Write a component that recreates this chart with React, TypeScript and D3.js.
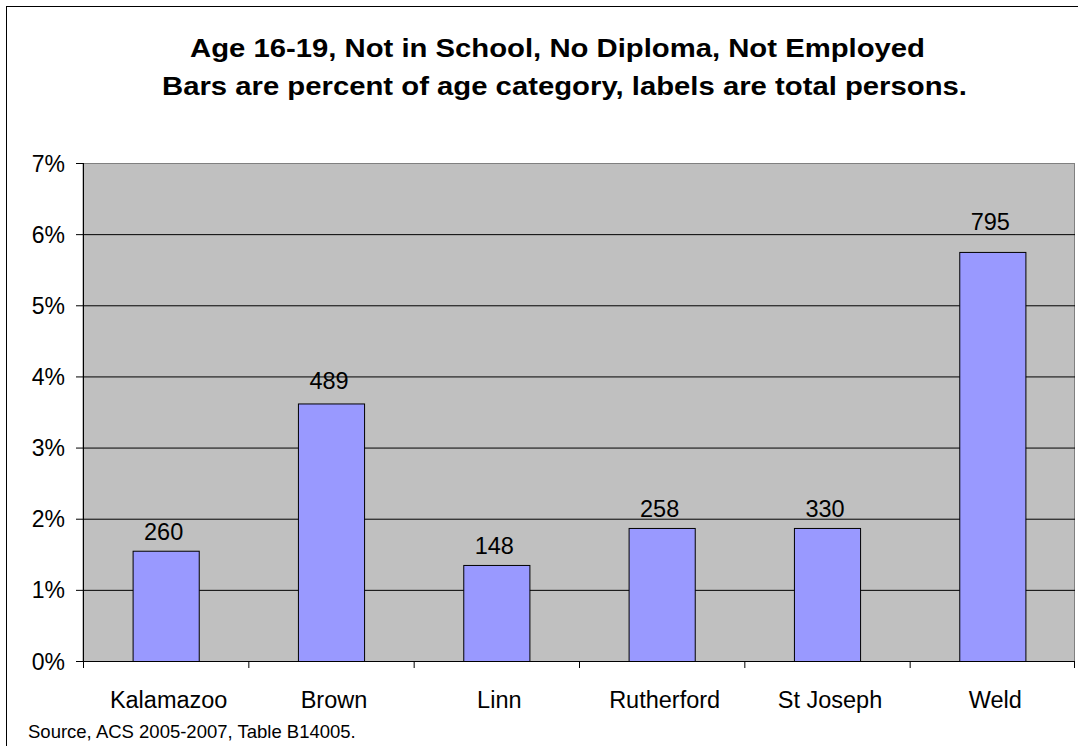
import React from "react";
import * as d3 from "d3";

const categories = ["Kalamazoo", "Brown", "Linn", "Rutherford", "St Joseph", "Weld"];
const percents = [1.55, 3.62, 1.35, 1.87, 1.87, 5.75];
const persons = ["260", "489", "148", "258", "330", "795"];
const yTicks = [0, 1, 2, 3, 4, 5, 6, 7];
const titleLines = [
  "Age 16-19, Not in School, No Diploma, Not Employed",
  "Bars are percent of age category, labels are total persons.",
];
const sourceText = "Source, ACS 2005-2007, Table B14005.";

const W = 1078;
const H = 746;
const plot = { left: 83, right: 1075, top: 163, bottom: 661 };
const font = "Arial, 'Liberation Sans', Helvetica, sans-serif";
// title layout (stretched horizontally like the reference)
const titleLayout = [
  { x: 190, y: 57, len: 735 },
  { x: 162, y: 95, len: 805 },
];

export default function App() {
  const x = d3
    .scaleBand<string>()
    .domain(categories)
    .range([plot.left, plot.right])
    .paddingInner(0.6)
    .paddingOuter(0.3);
  const xb = d3.scaleBand<string>().domain(categories).range([plot.left, plot.right]);
  const y = d3.scaleLinear().domain([0, 7]).range([plot.bottom, plot.top]);

  return (
    <svg
      width={W}
      height={H}
      style={{ position: "absolute", left: 0, top: 0, display: "block" }}
      fontFamily={font}
    >
      <rect x={0} y={0} width={W} height={H} fill="#fff" />
      <rect x={6.5} y={6.5} width={W + 10} height={H + 10} fill="none" stroke="#000" strokeWidth={1} />
      {titleLines.map((t, i) => (
        <text
          key={i}
          x={titleLayout[i].x}
          y={titleLayout[i].y}
          textLength={titleLayout[i].len}
          lengthAdjust="spacingAndGlyphs"
          fontSize={25}
          fontWeight="bold"
          fill="#000"
        >
          {t}
        </text>
      ))}
      <rect
        x={plot.left}
        y={plot.top + 0.5}
        width={plot.right - plot.left - 0.5}
        height={plot.bottom - plot.top}
        fill="#c0c0c0"
        stroke="#808080"
        strokeWidth={1}
      />
      {yTicks.map((t) => (
        <g key={t}>
          {t > 0 && t < 7 && (
            <line x1={plot.left} x2={plot.right} y1={y(t) + 0.5} y2={y(t) + 0.5} stroke="#000" strokeWidth={1} />
          )}
          <line x1={plot.left - 7} x2={plot.left} y1={y(t) + 0.5} y2={y(t) + 0.5} stroke="#000" strokeWidth={1} />
          <text x={65} y={y(t) + 8.5} textAnchor="end" fontSize={23} fill="#000">
            {t}%
          </text>
        </g>
      ))}
      {categories.map((c, i) => {
        const top = y(percents[i]);
        const h = y(0) - top;
        return (
          <g key={c}>
            <rect
              x={x(c)! + 0.5}
              y={top + 0.5}
              width={x.bandwidth()}
              height={h}
              fill="#9999ff"
              stroke="#000"
              strokeWidth={1}
            />
            <text
              x={x(c)! + x.bandwidth() / 2 - 2}
              y={top - (10 + 7e-5 * h * h)}
              textAnchor="middle"
              fontSize={23.5}
              fill="#000"
            >
              {persons[i]}
            </text>
            <text
              x={xb(c)! + xb.bandwidth() / 2 + 3}
              y={708}
              textAnchor="middle"
              fontSize={23.5}
              fill="#000"
            >
              {c}
            </text>
          </g>
        );
      })}
      {categories.concat(["end"]).map((c, i) => {
        const xx = Math.min(plot.left + i * xb.step(), plot.right - 1);
        return <line key={i} x1={xx + 0.5} x2={xx + 0.5} y1={plot.bottom} y2={plot.bottom + 7} stroke="#000" strokeWidth={1} />;
      })}
      <line x1={plot.left + 0.5} x2={plot.left + 0.5} y1={plot.top} y2={plot.bottom} stroke="#000" strokeWidth={1} />
      <line x1={plot.left} x2={plot.right} y1={plot.bottom + 0.5} y2={plot.bottom + 0.5} stroke="#000" strokeWidth={1} />
      <text x={28} y={738} fontSize={18.5} fill="#000">
        {sourceText}
      </text>
    </svg>
  );
}
